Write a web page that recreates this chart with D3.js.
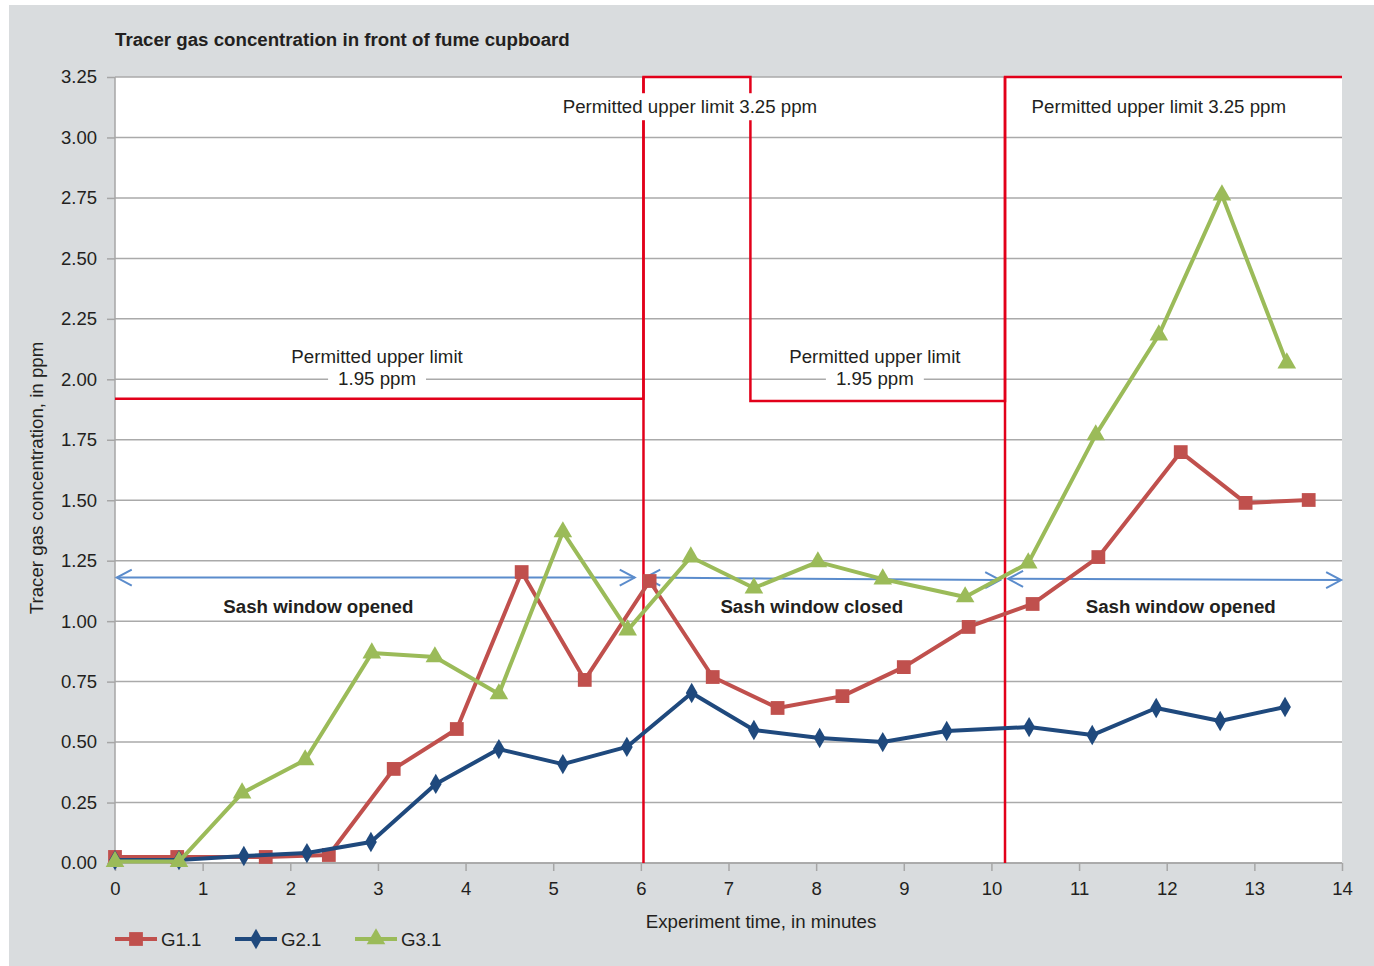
<!DOCTYPE html>
<html>
<head>
<meta charset="utf-8">
<script src="https://cdn.jsdelivr.net/npm/d3@7"></script>
<style>
  body { margin: 0; background: #fff; }
  svg { display: block; font-family: "Liberation Sans", Arial, sans-serif; }
</style>
</head>
<body>
<svg id="chart" width="1374" height="966"></svg>
<script>
// series values, [minutes, ppm]
var g11 = [
  [0.00, 0.025], [0.71, 0.025], [1.72, 0.025], [2.44, 0.033], [3.18, 0.389],
  [3.90, 0.554], [4.64, 1.203], [5.36, 0.757], [6.10, 1.166], [6.82, 0.769],
  [7.56, 0.641], [8.30, 0.690], [9.00, 0.810], [9.74, 0.976], [10.47, 1.071],
  [11.22, 1.265], [12.16, 1.699], [12.90, 1.489], [13.62, 1.501]
];
var g21 = [
  [0.00, 0.012], [0.73, 0.012], [1.47, 0.029], [2.19, 0.041], [2.92, 0.087],
  [3.66, 0.327], [4.38, 0.471], [5.11, 0.409], [5.84, 0.480], [6.58, 0.703],
  [7.29, 0.550], [8.04, 0.517], [8.76, 0.500], [9.49, 0.546], [10.43, 0.562],
  [11.15, 0.529], [11.88, 0.641], [12.61, 0.587], [13.35, 0.645]
];
var g31 = [
  [0.00, 0.006], [0.73, 0.006], [1.45, 0.289], [2.17, 0.426], [2.93, 0.868],
  [3.65, 0.852], [4.38, 0.699], [5.11, 1.369], [5.85, 0.963], [6.57, 1.265],
  [7.29, 1.137], [8.02, 1.245], [8.76, 1.174], [9.70, 1.100], [10.42, 1.240],
  [11.19, 1.770], [11.91, 2.183], [12.63, 2.762], [13.37, 2.067]
];

var seriesNames = ['G1.1', 'G2.1', 'G3.1'];
var xTicks = d3.range(0, 15, 1);
var yTicks = d3.range(0, 3.26, 0.25);

// permitted upper limit as a step line, plus the two phase boundaries
var limitStep = [
  [0, 1.92], [6.03, 1.92], [6.03, 3.25], [7.25, 3.25], [7.25, 1.91],
  [10.155, 1.91], [10.155, 3.25], [14, 3.25]
];
var phaseBounds = [6.03, 10.155];

// sash window arrows: [x1, x2, y1, y2] and their labels
var arrows = [[0.02, 5.93, 1.18, 1.18], [6.05, 10.10, 1.18, 1.17], [10.19, 13.99, 1.175, 1.17]];
var sashLabels = [['Sash window opened', 2.32, 1.06], ['Sash window closed', 7.95, 1.06], ['Sash window opened', 12.16, 1.06]];

// limit labels: [x, y, lines]
var limitLabels = [
  [2.99, 2.0, ['Permitted upper limit', '1.95 ppm']],
  [8.67, 2.0, ['Permitted upper limit', '1.95 ppm']],
  [6.56, 3.125, ['Permitted upper limit 3.25 ppm']],
  [11.91, 3.125, ['Permitted upper limit 3.25 ppm']]
];

var svg = d3.select('#chart');
var margin = {left: 115, right: 1342, top: 77, bottom: 863};
var fs = 18.7;

var x = d3.scaleLinear().domain([0, 14]).range([margin.left, margin.right]);
var y = d3.scaleLinear().domain([0, 3.25]).range([margin.bottom, margin.top]);

var colors = {red: '#c0504d', blue: '#1f497d', green: '#9bbb59', limit: '#e2001a', arrow: '#5b8ccc'};

// backgrounds
svg.append('rect').attr('x', 9).attr('y', 5).attr('width', 1365).attr('height', 961).attr('fill', '#d9dcde');
svg.append('rect').attr('x', margin.left).attr('y', margin.top)
  .attr('width', margin.right - margin.left).attr('height', margin.bottom - margin.top).attr('fill', '#fff');

// gridlines
svg.append('g').selectAll('line').data(yTicks).enter().append('line')
  .attr('x1', margin.left).attr('x2', margin.right)
  .attr('y1', function(d) { return y(d); }).attr('y2', function(d) { return y(d); })
  .attr('stroke', '#aaaaaa').attr('stroke-width', 1.5);

// axes
var yAxis = svg.append('g').attr('transform', 'translate(' + margin.left + ',0)')
  .call(d3.axisLeft(y).tickValues(yTicks).tickFormat(d3.format('.2f')).tickSize(8).tickPadding(10));
var xAxis = svg.append('g').attr('transform', 'translate(0,' + margin.bottom + ')')
  .call(d3.axisBottom(x).tickValues(xTicks).tickFormat(d3.format('d')).tickSize(8).tickPadding(11));
[yAxis, xAxis].forEach(function(ax) {
  ax.select('.domain').attr('stroke', '#a6a6a6').attr('stroke-width', 1.5);
  ax.selectAll('.tick line').attr('stroke', '#a6a6a6').attr('stroke-width', 1.5);
  ax.selectAll('.tick text').attr('fill', '#231f20').style('font-size', '18.5px')
    .style('font-family', '"Liberation Sans", Arial, sans-serif');
});
xAxis.select('.domain').attr('d', 'M' + margin.left + ',0H' + margin.right);
yAxis.select('.domain').attr('d', 'M0,' + margin.top + 'V' + margin.bottom);

// title and axis titles
svg.append('text').attr('x', 115).attr('y', 46).attr('font-size', fs).attr('font-weight', 'bold')
  .attr('fill', '#231f20').text('Tracer gas concentration in front of fume cupboard');
svg.append('text').attr('x', 761).attr('y', 928).attr('text-anchor', 'middle').attr('font-size', fs)
  .attr('fill', '#231f20').text('Experiment time, in minutes');
svg.append('text').attr('transform', 'translate(43,478) rotate(-90)').attr('text-anchor', 'middle')
  .attr('font-size', fs).attr('fill', '#231f20').text('Tracer gas concentration, in ppm');

// limit lines
var line = d3.line().x(function(d) { return x(d[0]); }).y(function(d) { return y(d[1]); });
svg.append('path').attr('d', line(limitStep)).attr('fill', 'none')
  .attr('stroke', colors.limit).attr('stroke-width', 2.5);
svg.append('g').selectAll('line').data(phaseBounds).enter().append('line')
  .attr('x1', function(d) { return x(d); }).attr('x2', function(d) { return x(d); })
  .attr('y1', y(3.25)).attr('y2', y(0))
  .attr('stroke', colors.limit).attr('stroke-width', 2.5);

// limit labels with white boxes
limitLabels.forEach(function(lab) {
  var g = svg.append('g');
  var lines = lab[2];
  var txt = g.append('text').attr('text-anchor', 'middle').attr('font-size', fs).attr('fill', '#231f20');
  lines.forEach(function(s, i) {
    txt.append('tspan').attr('x', x(lab[0]))
      .attr('y', y(lab[1]) - (lines.length - 1 - i) * 22 + 6).text(s);
  });
  var last = g.append('text').attr('text-anchor', 'middle').attr('font-size', fs)
    .attr('x', x(lab[0])).attr('y', y(lab[1]) + 6).attr('visibility', 'hidden').text(lines[lines.length - 1]);
  var bb = last.node().getBBox();
  last.remove();
  g.insert('rect', 'text').attr('x', bb.x - 10).attr('y', bb.y - 3)
    .attr('width', bb.width + 20).attr('height', bb.height + 6).attr('fill', '#fff');
});

// arrows
var ag = svg.append('g').attr('stroke', colors.arrow).attr('stroke-width', 2).attr('fill', 'none');
arrows.forEach(function(a) {
  var x1 = x(a[0]), x2 = x(a[1]), y1 = y(a[2]), y2 = y(a[3]);
  ag.append('line').attr('x1', x1).attr('x2', x2).attr('y1', y1).attr('y2', y2);
  ag.append('path').attr('d', 'M' + (x1 + 15) + ',' + (y1 - 8) + 'L' + x1 + ',' + y1 + 'L' + (x1 + 15) + ',' + (y1 + 8));
  ag.append('path').attr('d', 'M' + (x2 - 15) + ',' + (y2 - 8) + 'L' + x2 + ',' + y2 + 'L' + (x2 - 15) + ',' + (y2 + 8));
});
sashLabels.forEach(function(s) {
  svg.append('text').attr('x', x(s[1])).attr('y', y(s[2]) + 6).attr('text-anchor', 'middle')
    .attr('font-size', fs).attr('font-weight', 'bold').attr('fill', '#231f20').text(s[0]);
});

// series
var series = [
  {name: seriesNames[0], data: g11, color: colors.red, symbol: d3.symbolSquare, size: 190},
  {name: seriesNames[1], data: g21, color: colors.blue, symbol: d3.symbolDiamond, size: 120},
  {name: seriesNames[2], data: g31, color: colors.green, symbol: d3.symbolTriangle, size: 150}
];
series.forEach(function(s) {
  var g = svg.append('g');
  g.append('path').attr('d', line(s.data)).attr('fill', 'none')
    .attr('stroke', s.color).attr('stroke-width', 4).attr('stroke-linejoin', 'round');
  g.selectAll('path.m').data(s.data).enter().append('path').attr('class', 'm')
    .attr('transform', function(d) { return 'translate(' + x(d[0]) + ',' + y(d[1]) + ')'; })
    .attr('d', d3.symbol().type(s.symbol).size(s.size)).attr('fill', s.color);
});

// legend
var legendX = [115, 235, 355];
series.forEach(function(s, i) {
  var lg = svg.append('g').attr('transform', 'translate(' + legendX[i] + ',939)');
  lg.append('line').attr('x1', 0).attr('x2', 42).attr('stroke', s.color).attr('stroke-width', 4);
  lg.append('path').attr('transform', 'translate(21,0)')
    .attr('d', d3.symbol().type(s.symbol).size(s.size)).attr('fill', s.color);
  lg.append('text').attr('x', 46).attr('y', 6.5).attr('font-size', fs).attr('fill', '#231f20').text(s.name);
});
</script>
</body>
</html>
